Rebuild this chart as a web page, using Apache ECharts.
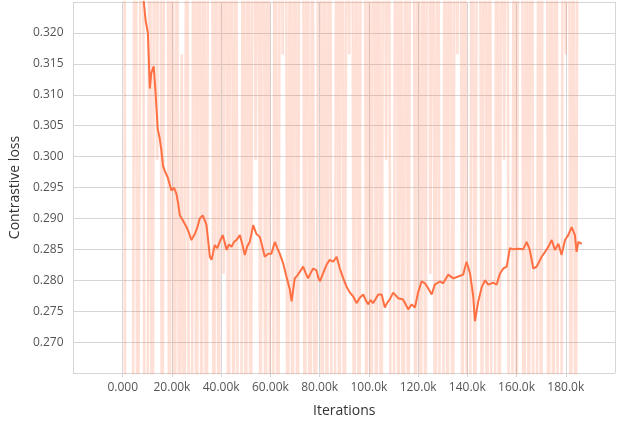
<!DOCTYPE html>
<html>
<head>
<meta charset="utf-8">
<script src="https://cdn.jsdelivr.net/npm/echarts@6/dist/echarts.min.js"></script>
<style>html,body{margin:0;padding:0;background:#fff}#c{width:625px;height:423px}</style>
</head>
<body>
<div id="c"></div>
<script>
// Raw (unsmoothed) loss, one point per 1k iterations (most fall outside the zoomed y range)
const rawSteps = [];
for (let k = 0; k <= 185; k++) rawSteps.push(k * 1000);
const rawVals = [
0.70,0.22,0.21,0.23,0.22,0.41,0.23,0.3165,0.39,0.22,
0.24,0.37,0.21,0.40,0.2995,0.43,0.22,0.38,0.38,0.23,
0.42,0.21,0.36,0.24,0.3165,0.22,0.39,0.23,0.23,0.41,
0.22,0.40,0.24,0.37,0.21,0.43,0.43,0.22,0.38,0.23,
0.40,0.281,0.39,0.22,0.42,0.24,0.36,0.21,0.21,0.40,
0.23,0.38,0.22,0.41,0.2995,0.37,0.24,0.43,0.22,0.39,
0.23,0.23,0.40,0.21,0.38,0.3165,0.42,0.22,0.37,0.24,
0.40,0.22,0.39,0.39,0.23,0.41,0.21,0.36,0.24,0.281,
0.43,0.22,0.38,0.23,0.40,0.22,0.22,0.39,0.24,0.42,
0.21,0.37,0.3165,0.40,0.23,0.38,0.22,0.41,0.41,0.24,
0.36,0.22,0.43,0.23,0.39,0.21,0.40,0.2995,0.38,0.22,
0.22,0.42,0.24,0.37,0.21,0.40,0.23,0.39,0.39,0.22,
0.41,0.23,0.36,0.24,0.43,0.281,0.38,0.22,0.40,0.21,
0.21,0.39,0.23,0.42,0.22,0.37,0.3165,0.40,0.24,0.38,
0.22,0.22,0.41,0.23,0.36,0.36,0.24,0.43,0.22,0.39,
0.21,0.21,0.40,0.23,0.38,0.2995,0.42,0.22,0.22,0.37,
0.24,0.40,0.40,0.21,0.39,0.23,0.41,0.22,0.22,0.36,
0.24,0.43,0.43,0.22,0.38,0.23,0.40,0.21,0.21,0.39,
0.3165,0.42,0.23,0.37,0.22,0.40
];
// Smoothed loss (iterations in thousands)
const smoothStepsK = [
0,3,6,8.5,9.3,10.2,10.6,11.0,11.6,12.6,13.4,14.2,15.0,15.7,16.4,17.1,18.3,19.8,20.8,21.8,
22.5,23.2,24.4,25.9,26.8,27.9,28.6,29.3,30.3,31.3,32.5,33.2,34.0,34.7,35.4,36.1,37.4,38.4,39.4,40.6,
41.4,42.2,43.2,44.2,45.2,46.2,47.6,48.6,49.6,50.6,51.6,52.3,53.0,54.3,55.7,56.7,57.7,59.1,60.4,61.8,
62.8,63.8,65.2,66.5,67.9,68.6,69.9,71.0,72.0,73.3,74.3,75.3,76.4,77.4,78.7,79.4,80.1,81.4,82.8,84.1,
85.5,86.9,88.2,89.6,90.9,92.3,93.6,95.0,96.4,97.7,98.7,99.7,100.7,101.7,102.8,103.8,105.2,106.5,107.5,108.5,
109.9,111.9,113.9,116.0,117.4,118.7,120.0,121.4,122.8,124.1,125.5,126.8,128.9,130.2,132.2,134.3,136.3,138.3,139.7,141.1,
142.4,143.1,144.4,145.8,147.2,148.5,150.5,151.9,153.3,154.6,156.0,157.3,158.7,160.7,162.7,164.1,165.4,166.8,168.2,170.2,
171.6,172.9,174.3,175.6,177.0,178.3,179.7,181.0,182.4,183.7,184.4,185.1,186.5
];
const smoothVals = [
0.400,0.360,0.338,0.3253,0.3220,0.3200,0.3157,0.3110,0.3135,0.3146,0.3100,0.3045,0.3030,0.3010,0.2985,0.2977,0.2966,0.2945,0.2950,0.2940,
0.2925,0.2905,0.2897,0.2886,0.2878,0.2865,0.2870,0.2875,0.2885,0.2900,0.2905,0.2898,0.2890,0.2865,0.2838,0.2833,0.2857,0.2852,0.2862,0.2873,
0.2862,0.2849,0.2858,0.2854,0.2862,0.2865,0.2873,0.2858,0.2841,0.2855,0.2862,0.2875,0.2889,0.2875,0.2870,0.2855,0.2838,0.2843,0.2843,0.2862,
0.2852,0.2843,0.2827,0.2806,0.2785,0.2766,0.2803,0.2808,0.2814,0.2822,0.2812,0.2803,0.2812,0.2819,0.2816,0.2805,0.2798,0.2811,0.2825,0.2833,
0.2830,0.2838,0.2819,0.2803,0.2790,0.2780,0.2774,0.2763,0.2772,0.2777,0.2768,0.2761,0.2768,0.2763,0.2770,0.2777,0.2777,0.2756,0.2764,0.2769,
0.2780,0.2771,0.2769,0.2753,0.2761,0.2756,0.2780,0.2798,0.2795,0.2787,0.2777,0.2793,0.2798,0.2795,0.2809,0.2803,0.2806,0.2809,0.2830,0.2811,
0.2774,0.2734,0.2765,0.2788,0.2800,0.2793,0.2796,0.2793,0.2811,0.2819,0.2822,0.2852,0.2850,0.2851,0.2850,0.2862,0.2849,0.2819,0.2822,0.2838,
0.2846,0.2854,0.2865,0.2849,0.2859,0.2841,0.2865,0.2873,0.2886,0.2873,0.2846,0.2862,0.2859
];

const rawData = rawSteps.map((s, i) => [s, rawVals[i]]);
const smoothData = smoothStepsK.map((s, i) => [s * 1000, smoothVals[i]]);

const chart = echarts.init(document.getElementById('c'), null, {renderer: 'canvas'});
const gridColor = '#d6d6d6';
chart.setOption({
  animation: false,
  grid: {left: 73, right: 10, top: 2, bottom: 45},
  xAxis: {
    type: 'value', min: -20000, max: 200000, interval: 20000,
    name: 'Iterations', nameLocation: 'middle', nameGap: 31,
    nameTextStyle: {fontFamily: 'Open Sans', fontSize: 14, color: '#333'},
    axisLine: {show: true, lineStyle: {color: gridColor}},
    axisTick: {show: true, length: 4, lineStyle: {color: gridColor}},
    splitLine: {show: true, lineStyle: {color: gridColor, width: 1}},
    axisLabel: {
      showMinLabel: false, showMaxLabel: false, margin: 9,
      fontFamily: 'Open Sans', fontSize: 12, color: '#555',
      formatter: v => v === 0 ? '0.000' : (Math.abs(v) < 100000 ? (v/1000).toFixed(2) + 'k' : (v/1000).toFixed(1) + 'k')
    }
  },
  yAxis: {
    type: 'value', min: 0.265, max: 0.325, interval: 0.005,
    name: 'Contrastive loss', nameLocation: 'middle', nameGap: 44,
    nameTextStyle: {fontFamily: 'Open Sans', fontSize: 14, color: '#333'},
    axisLine: {show: true, lineStyle: {color: gridColor}},
    axisTick: {show: false},
    splitLine: {show: true, lineStyle: {color: gridColor, width: 1}},
    axisLabel: {
      showMinLabel: false, showMaxLabel: false, margin: 10,
      fontFamily: 'Open Sans', fontSize: 12, color: '#555',
      formatter: v => v.toFixed(3)
    }
  },
  series: [
    {
      type: 'line', data: rawData, symbol: 'none', clip: true, z: 2,
      lineStyle: {color: '#ff7043', width: 2.6, opacity: 0.22}
    },
    {
      type: 'line', data: smoothData, symbol: 'none', clip: true, z: 3,
      lineStyle: {color: '#ff7043', width: 2}
    }
  ]
});
</script>
</body>
</html>
